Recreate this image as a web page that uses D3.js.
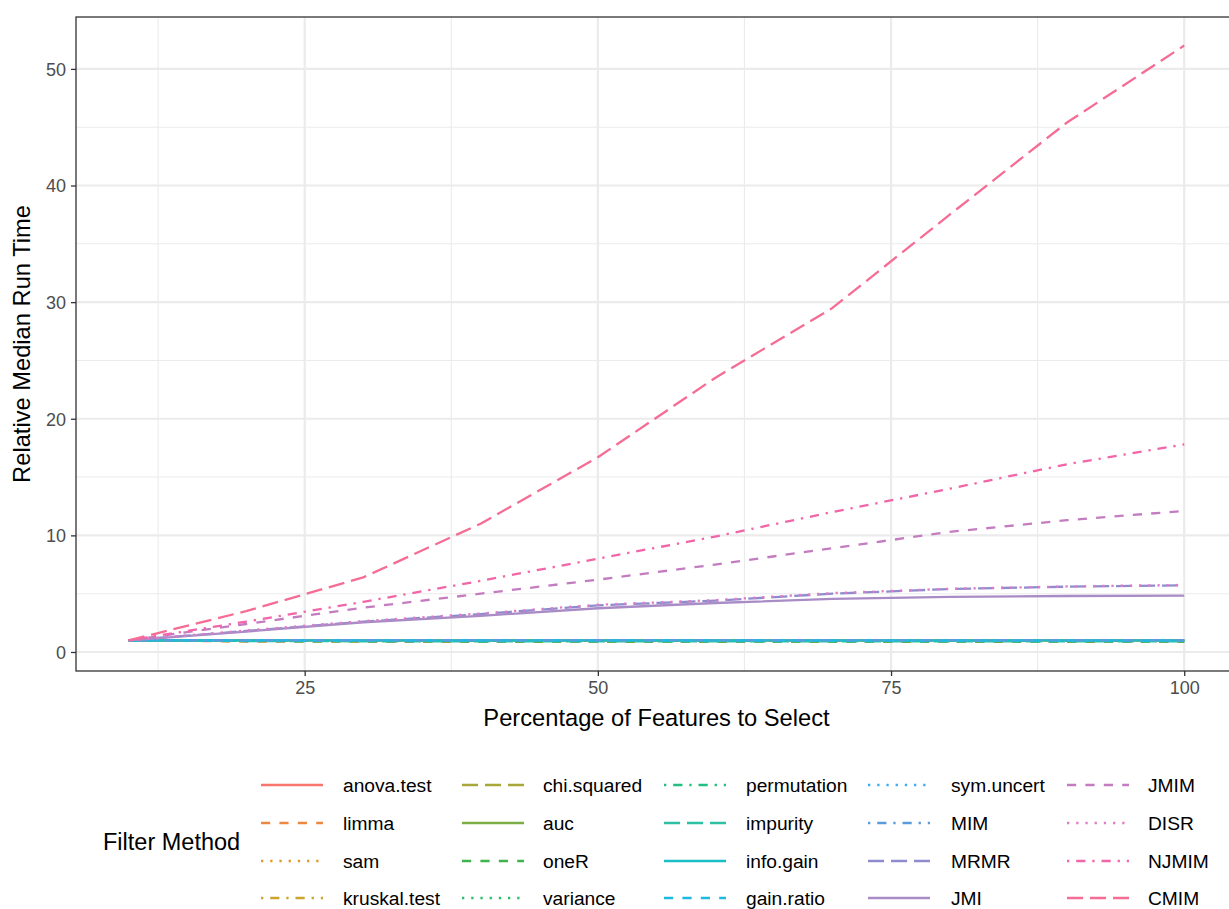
<!DOCTYPE html>
<html><head><meta charset="utf-8">
<script src="https://cdn.jsdelivr.net/npm/d3@7"></script>
<style>
html,body{margin:0;padding:0;background:#fff;}
svg{display:block;font-family:"Liberation Sans",Arial,Helvetica,sans-serif;}
</style></head>
<body><svg id="chart" width="1229" height="909"></svg>
<script>
// ---- data ----
const pct = [10, 20, 30, 40, 50, 60, 70, 80, 90, 100];
const anovaTest   = [1, 1.00, 0.99, 0.99, 0.99, 0.99, 0.99, 0.99, 0.99, 0.99];
const limma       = [1, 0.90, 0.88, 0.87, 0.87, 0.86, 0.86, 0.86, 0.86, 0.86];
const sam         = [1, 0.97, 0.96, 0.96, 0.96, 0.96, 0.96, 0.96, 0.96, 0.96];
const kruskalTest = [1, 0.98, 0.98, 0.97, 0.97, 0.97, 0.97, 0.97, 0.97, 0.97];
const chiSquared  = [1, 0.99, 0.99, 0.99, 0.99, 0.99, 0.99, 0.99, 0.99, 0.99];
const auc         = [1, 0.99, 0.98, 0.98, 0.98, 0.98, 0.98, 0.98, 0.98, 0.98];
const oneR        = [1, 0.93, 0.91, 0.90, 0.90, 0.90, 0.90, 0.90, 0.89, 0.89];
const variance    = [1, 0.98, 0.97, 0.97, 0.97, 0.97, 0.97, 0.97, 0.97, 0.97];
const permutation = [1, 0.97, 0.96, 0.96, 0.95, 0.95, 0.95, 0.95, 0.95, 0.95];
const impurity    = [1, 0.94, 0.92, 0.91, 0.91, 0.91, 0.91, 0.91, 0.91, 0.91];
const infoGain    = [1, 1.00, 1.00, 0.99, 0.99, 0.99, 0.99, 0.99, 0.99, 0.99];
const gainRatio   = [1, 0.99, 0.99, 0.99, 0.99, 0.99, 0.98, 0.98, 0.98, 0.98];
const symUncert   = [1, 1.00, 1.00, 1.00, 1.00, 1.00, 1.00, 1.00, 1.00, 1.00];
const MIM         = [1, 1.01, 1.01, 1.01, 1.01, 1.01, 1.01, 1.01, 1.01, 1.01];
const MRMR        = [1, 1.80, 2.60, 3.25, 4.00, 4.40, 5.00, 5.40, 5.60, 5.72];
const JMI         = [1, 1.75, 2.55, 3.10, 3.75, 4.20, 4.55, 4.72, 4.80, 4.83];
const JMIM        = [1, 2.40, 3.80, 5.00, 6.20, 7.50, 8.90, 10.30, 11.30, 12.10];
const DISR        = [1, 1.85, 2.65, 3.30, 4.05, 4.45, 5.05, 5.42, 5.62, 5.75];
const NJMIM       = [1, 2.60, 4.30, 6.10, 8.00, 9.90, 12.00, 14.00, 16.10, 17.80];
const CMIM        = [1, 3.50, 6.40, 11.00, 16.70, 23.50, 29.50, 37.50, 45.40, 52.00];

const methods = ["anova.test","limma","sam","kruskal.test","chi.squared","auc","oneR","variance",
  "permutation","impurity","info.gain","gain.ratio","sym.uncert","MIM","MRMR","JMI","JMIM","DISR","NJMIM","CMIM"];
const seriesValues = [anovaTest, limma, sam, kruskalTest, chiSquared, auc, oneR, variance,
  permutation, impurity, infoGain, gainRatio, symUncert, MIM, MRMR, JMI, JMIM, DISR, NJMIM, CMIM];
const xTicks = [25, 50, 75, 100];
const xMinor = [12.5, 37.5, 62.5, 87.5];
const yTicks = [0, 10, 20, 30, 40, 50];
const yMinor = [5, 15, 25, 35, 45];

// ---- styles ----
const colors = ["#F8766D","#EE8840","#DE9A2A","#C9A530","#A9A73A","#7DAE45","#3DB54C","#2BBE66",
  "#22BF80","#2DC0A2","#1CBEC6","#1CB9E1","#3AAEEF","#5A9CDB","#8E8CCF","#A98BC6","#C47CC0","#E07DC6","#F066A8","#F56C94"];
const U = 2.3;
const ltypes = ["solid","dashed","dotted","dotdash","longdash"];
const dashFor = {
  solid: null,
  dashed: [4*U, 4*U].join(","),
  dotted: [1*U, 3*U].join(","),
  dotdash: [1*U, 3*U, 4*U, 3*U].join(","),
  longdash: [7*U, 3*U].join(",")
};
const lt = i => ltypes[i % 5];

const svg = d3.select("#chart");
const P = {left: 76, top: 17, right: 1237, bottom: 671};

const x = d3.scaleLinear().domain([5.5, 104.5]).range([P.left, P.right]);
const y = d3.scaleLinear().domain([-1.63, 54.45]).range([P.bottom, P.top]);

// panel
const g = svg.append("g");
g.append("rect").attr("x", P.left).attr("y", P.top).attr("width", P.right - P.left).attr("height", P.bottom - P.top).attr("fill", "#fff");

// grid
g.selectAll(".ymin").data(yMinor).join("line").attr("x1", P.left).attr("x2", P.right)
  .attr("y1", d => y(d)).attr("y2", d => y(d)).attr("stroke", "#EBEBEB").attr("stroke-width", 1.1);
g.selectAll(".xmin").data(xMinor).join("line").attr("y1", P.top).attr("y2", P.bottom)
  .attr("x1", d => x(d)).attr("x2", d => x(d)).attr("stroke", "#EBEBEB").attr("stroke-width", 1.1);
g.selectAll(".ymaj").data(yTicks).join("line").attr("x1", P.left).attr("x2", P.right)
  .attr("y1", d => y(d)).attr("y2", d => y(d)).attr("stroke", "#EBEBEB").attr("stroke-width", 2.2);
g.selectAll(".xmaj").data(xTicks).join("line").attr("y1", P.top).attr("y2", P.bottom)
  .attr("x1", d => x(d)).attr("x2", d => x(d)).attr("stroke", "#EBEBEB").attr("stroke-width", 2.2);

// lines
const line = d3.line().x(d => x(d[0])).y(d => y(d[1]));
svg.append("clipPath").attr("id", "pc").append("rect")
  .attr("x", P.left).attr("y", P.top).attr("width", P.right - P.left).attr("height", P.bottom - P.top);
const lg = g.append("g").attr("clip-path", "url(#pc)");
seriesValues.forEach((vals, i) => {
  const pts = pct.map((p, j) => [p, vals[j]]);
  lg.append("path").attr("d", line(pts)).attr("fill", "none")
    .attr("stroke", colors[i]).attr("stroke-width", 2.3)
    .attr("stroke-dasharray", dashFor[lt(i)])
    .attr("stroke-linejoin", "round");
});

// border
g.append("rect").attr("x", P.left).attr("y", P.top).attr("width", P.right - P.left).attr("height", P.bottom - P.top)
  .attr("fill", "none").attr("stroke", "#333333").attr("stroke-width", 1.3);

// axes
const yAxis = d3.axisLeft(y).tickValues(yTicks).tickSize(5).tickPadding(5);
const yg = svg.append("g").attr("transform", `translate(${P.left},0)`).call(yAxis);
const xAxis = d3.axisBottom(x).tickValues(xTicks).tickSize(5).tickPadding(5);
const xg = svg.append("g").attr("transform", `translate(0,${P.bottom})`).call(xAxis);
[yg, xg].forEach(a => {
  a.select(".domain").remove();
  a.selectAll(".tick line").attr("stroke", "#333333").attr("stroke-width", 1.3);
  a.selectAll(".tick text").attr("fill", "#4D4D4D").style("font-size", "18px")
    .style("font-family", '"Liberation Sans",Arial,sans-serif');
});
yg.selectAll(".tick text").attr("dy", "0.35em");

// axis titles
svg.append("text").attr("x", (P.left + 1237) / 2).attr("y", 726).attr("text-anchor", "middle")
  .style("font-size", "23.7px").attr("fill", "#000").text("Percentage of Features to Select");
svg.append("text").attr("transform", `translate(30,${(P.top + P.bottom) / 2}) rotate(-90)`)
  .attr("text-anchor", "middle").style("font-size", "23.7px").attr("fill", "#000").text("Relative Median Run Time");

// legend
const keyX = [261, 462, 664, 868, 1067];
const labX = [343, 543, 746, 951, 1148];
const rowY = [785, 823, 861, 898];
svg.append("text").attr("x", 103).attr("y", 842).attr("dy", "0.35em")
  .style("font-size", "23.5px").attr("fill", "#000").text("Filter Method");
methods.forEach((m, i) => {
  const c = Math.floor(i / 4), r = i % 4;
  svg.append("line").attr("x1", keyX[c]).attr("x2", keyX[c] + 62).attr("y1", rowY[r]).attr("y2", rowY[r])
    .attr("stroke", colors[i]).attr("stroke-width", 2.3).attr("stroke-dasharray", dashFor[lt(i)]);
  svg.append("text").attr("x", labX[c]).attr("y", rowY[r]).attr("dy", "0.35em")
    .style("font-size", "19.2px").attr("fill", "#000").text(m);
});
</script></body></html>
